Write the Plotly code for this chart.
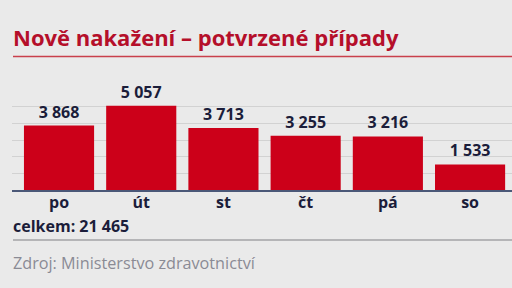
import plotly.graph_objects as go

days = ["po", "út", "st", "čt", "pá", "so"]
cases = [3868, 5057, 3713, 3255, 3216, 1533]
value_labels = ["3 868", "5 057", "3 713", "3 255", "3 216", "1 533"]
title_text = "Nově nakažení – potvrzené případy"
total_text = "celkem: 21 465"
source_text = "Zdroj: Ministerstvo zdravotnictví"

W, H = 512, 288
L, R, T, B = 12, 0, 103, 98
PH = H - T - B
PW = W - L - R

def py(p):
    return (H - B - p) / PH

def px(p):
    return (p - L) / PW

BG = "#eaeaea"
RED = "#cc0019"
DARK = "#1b1d3a"
FONT = "Open Sans"

fig = go.Figure(go.Bar(
    x=list(range(len(days))), y=cases,
    text=value_labels, textposition="outside",
    textfont=dict(family=FONT, size=16, color=DARK, weight="bold"),
    marker=dict(color=RED, line=dict(width=0)),
    cliponaxis=False, width=0.853,
))

fig.update_layout(
    width=W, height=H,
    margin=dict(l=L, r=R, t=T, b=B),
    paper_bgcolor=BG, plot_bgcolor=BG,
    showlegend=False,
    xaxis=dict(
        range=[-0.572, 5.51],
        tickvals=list(range(len(days))), ticktext=days,
        tickfont=dict(family=FONT, size=16, color=DARK, weight="bold"),
        showgrid=False, zeroline=False,
        showline=True, linecolor="#4b5878", linewidth=1.5,
        ticks="", ticklen=0, ticklabelstandoff=-3,
    ),
    yaxis=dict(
        range=[0, PH / 0.016667], dtick=1000, tick0=0,
        showgrid=True, gridcolor="#d2d2d2", gridwidth=1,
        zeroline=False, showticklabels=False, ticks="",
    ),
    annotations=[
        dict(text=title_text, x=px(11), y=py(37), xref="paper", yref="paper",
             xanchor="left", yanchor="middle", showarrow=False,
             font=dict(family=FONT, size=22, color="#b50f2a", weight="bold")),
        dict(text=total_text, x=px(11), y=py(226), xref="paper", yref="paper",
             xanchor="left", yanchor="middle", showarrow=False,
             font=dict(family=FONT, size=16, color=DARK, weight="bold")),
        dict(text=source_text, x=px(11), y=py(263), xref="paper", yref="paper",
             xanchor="left", yanchor="middle", showarrow=False,
             font=dict(family=FONT, size=16.2, color="#8a8b95")),
    ],
    shapes=[
        dict(type="line", xref="paper", yref="paper", x0=px(13), x1=1.0,
             y0=py(56.5), y1=py(56.5), line=dict(color="#c9404c", width=1.5)),
        dict(type="line", xref="paper", yref="paper", x0=px(13), x1=1.0,
             y0=py(240), y1=py(240), line=dict(color="#a3a3a6", width=1.5)),
    ],
)

fig.write_html("out.html")
